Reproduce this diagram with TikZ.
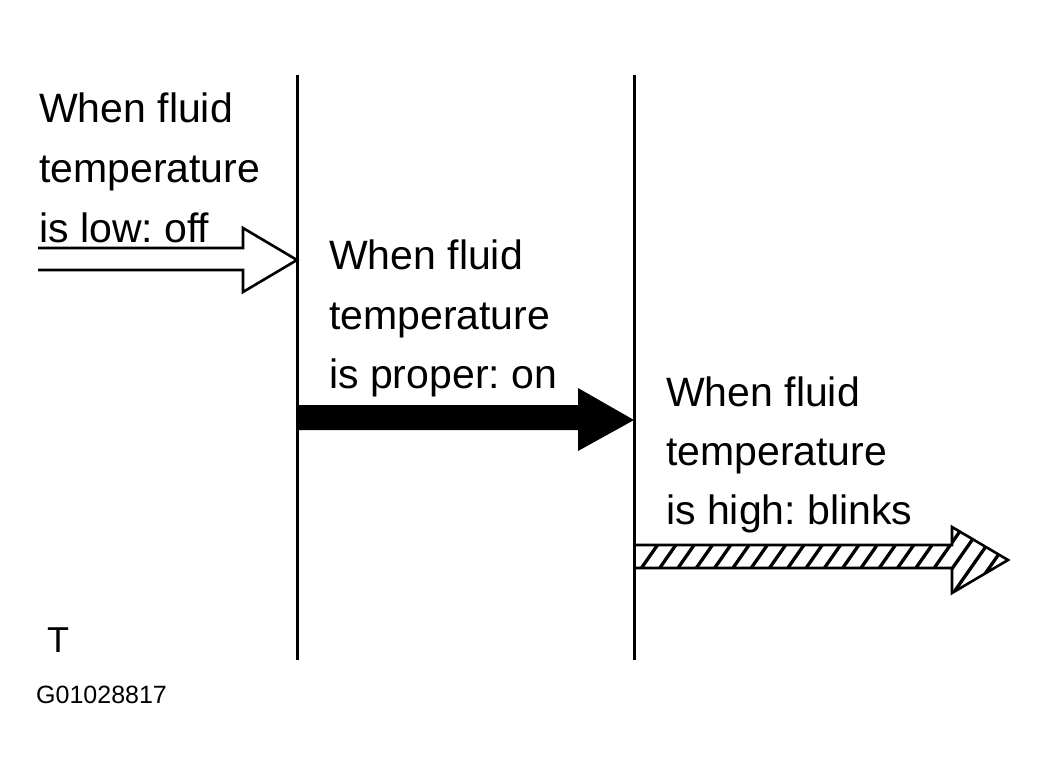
\documentclass[tikz,border=0pt]{standalone}
\usepackage{fontspec}
\setmainfont{Liberation Sans}
\frenchspacing
\begin{document}
\begin{tikzpicture}[x=1pt,y=-1pt,
  lbl/.style={anchor=base west,inner sep=0pt,font=\fontsize{41}{48}\selectfont},
  divider/.style={line width=3pt},
  outline/.style={line width=2.6pt,line join=miter},
  hatch/.style={line width=3.3pt}]
\useasboundingbox[fill=white] (0,0) rectangle (1046,779);
% dividers
\coordinate (d1t) at (297,75); \coordinate (d1b) at (297,660);
\coordinate (d2t) at (634,75); \coordinate (d2b) at (634,660);
\draw[divider] (d1t) -- (d1b);
\draw[divider] (d2t) -- (d2b);
% texts
\node[lbl] (a1) at (39,122) {When fluid};
\node[lbl] (a2) at (39,182) {temperature};
\node[lbl] (a3) at (39,242) {is low: off};
\node[lbl] (b1) at (329,269) {When fluid};
\node[lbl] (b2) at (329,329) {temperature};
\node[lbl] (b3) at (329,388) {is proper: on};
\node[lbl] (c1) at (666,406) {When fluid};
\node[lbl] (c2) at (666,465) {temperature};
\node[lbl] (c3) at (666,524) {is high: blinks};
\node[anchor=base west,inner sep=0pt,font=\fontsize{36}{40}\selectfont] (tt) at (47,652) {T};
\node[anchor=base west,inner sep=0pt,font=\fontsize{25}{30}\selectfont] (gid) at (36,703) {G01028817};
% arrow 1: open outline
\draw[outline] (38,248) -- (243,248) -- (243,228) -- (297,260) -- (243,292) -- (243,270) -- (38,270);
% arrow 2: solid black
\fill (297,405) -- (578,405) -- (578,388) -- (634,420) -- (578,451) -- (578,430) -- (297,430) -- cycle;
% arrow 3: hatched
\begin{scope}
  \clip (634,545) -- (952,545) -- (952,527) -- (1008,560) -- (952,593) -- (952,568) -- (634,568) -- cycle;
  \foreach \i in {0,...,20} {
    \draw[hatch] ({640+\i*18.3-21},600) -- ({640+\i*18.3+49},500);
  }
\end{scope}
\draw[outline] (634,545) -- (952,545) -- (952,527) -- (1008,560) -- (952,593) -- (952,568) -- (634,568);
\end{tikzpicture}
\end{document}
